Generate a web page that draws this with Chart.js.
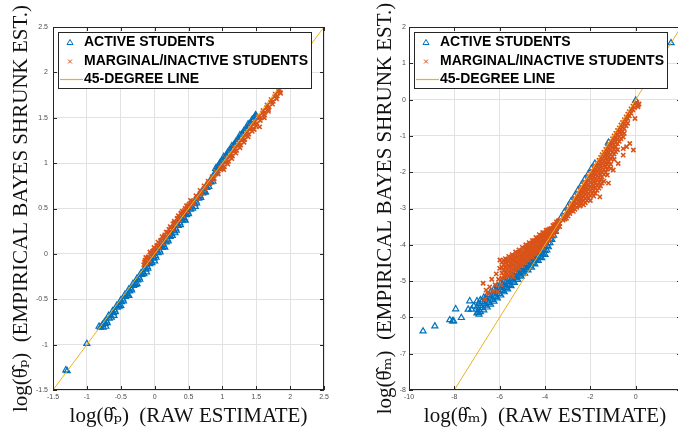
<!DOCTYPE html>
<html>
<head>
<meta charset="utf-8">
<script src="https://cdn.jsdelivr.net/npm/chart.js@4"></script>
<style>
  html, body { margin: 0; padding: 0; background: #fff; overflow: hidden; }
  #wrap { position: relative; width: 678px; height: 434px; overflow: hidden; }
  .panel { position: absolute; top: 0; height: 434px; }
  #left { left: 0; width: 340px; }
  #right { left: 340px; width: 357px; }
</style>
</head>
<body>
<div id="wrap">
  <div class="panel" id="left"><canvas id="chartP"></canvas></div>
  <div class="panel" id="right"><canvas id="chartM"></canvas></div>
</div>
<script>
// left panel: log(theta_p), [raw, shrunk]
const activeP = [
  [-1.31,-1.28],[-1.29,-1.29],[-1.0,-0.99],[-0.82,-0.80],[-0.80,-0.81],
  [-0.77,-0.78],[-0.74,-0.75],[-0.71,-0.74],[-0.68,-0.68],[-0.65,-0.68],[-0.62,-0.63],
  [-0.59,-0.62],[-0.56,-0.57],[-0.53,-0.56],[-0.50,-0.51],[-0.47,-0.50],[-0.44,-0.45],
  [-0.41,-0.44],[-0.38,-0.39],[-0.35,-0.38],[-0.32,-0.33],[-0.29,-0.32],[-0.26,-0.27],
  [-0.23,-0.26],[-0.20,-0.21],[-0.17,-0.20],[-0.14,-0.15],[-0.11,-0.14],[-0.08,-0.09],
  [-0.05,-0.08],[-0.02,-0.03],[0.01,-0.02],[0.04,0.03],[0.07,0.04],[0.10,0.09],
  [0.13,0.10],[0.16,0.15],[0.19,0.16],[0.22,0.21],[0.25,0.22],[0.28,0.27],[0.31,0.28],
  [0.34,0.33],[0.37,0.34],[0.40,0.39],[0.43,0.40],[0.46,0.45],[0.49,0.46],[0.52,0.51],
  [0.55,0.52],[0.58,0.57],[0.61,0.58],[0.64,0.63],[0.67,0.64],[0.70,0.69],[0.73,0.70],
  [0.76,0.75],[0.79,0.77],[0.82,0.81],[0.85,0.83],[0.88,0.88],[0.91,0.90],[0.94,0.95],
  [0.97,0.97],[1.00,1.02],[1.03,1.04],[1.06,1.08],[1.09,1.10],[1.12,1.14],[1.15,1.16],
  [1.18,1.20],[1.21,1.22],[1.24,1.26],[1.27,1.28],[1.30,1.32],[1.33,1.34],[1.36,1.38],
  [1.39,1.40],[1.42,1.44],[1.45,1.46],[1.48,1.51],[1.50,1.52],
  [-0.76,-0.81],[-0.70,-0.76],[-0.64,-0.70],[-0.58,-0.64],[-0.52,-0.58],[-0.46,-0.52],
  [-0.40,-0.46],[-0.34,-0.40],[-0.28,-0.34],[-0.22,-0.28],[-0.16,-0.22],[-0.10,-0.16],
  [-0.04,-0.10],[0.02,-0.04],[0.08,0.02],[0.14,0.08],[0.20,0.14],[0.26,0.20],[0.32,0.26],
  [0.38,0.32],[0.44,0.38],[0.50,0.44],[0.56,0.50],[0.62,0.56],[0.68,0.62],[0.74,0.68],
  [0.80,0.74],[0.86,0.80],
  [-0.73,-0.77],[-0.67,-0.71],[-0.61,-0.65],[-0.55,-0.59],[-0.49,-0.53],[-0.43,-0.47],
  [-0.37,-0.41],[-0.31,-0.35],[-0.25,-0.29],[-0.19,-0.23],[-0.13,-0.17],[-0.07,-0.11],
  [-0.01,-0.05],[0.05,0.01],[0.11,0.07],[0.17,0.13],[0.23,0.19],[0.29,0.25],[0.35,0.31],
  [0.41,0.37],[0.47,0.43],[0.53,0.49],[0.59,0.55],[0.65,0.61],[0.71,0.67],[0.77,0.73],[0.83,0.79],
  [-0.72,-0.80],[-0.60,-0.68],[-0.50,-0.57],[-0.38,-0.46],[-0.26,-0.33],[-0.12,-0.20],
  [0.00,-0.08],[0.15,0.07],[0.30,0.23],[0.45,0.37],[0.60,0.52],[0.75,0.68],
  [0.90,0.94],[0.96,1.00],[1.02,1.07],[1.08,1.12],[1.14,1.19],[1.20,1.24],[1.26,1.31],
  [1.32,1.36],[1.38,1.43],[1.44,1.48],[1.49,1.53],
  [0.93,0.96],[0.99,1.02],[1.05,1.08],[1.11,1.14],[1.17,1.20],[1.23,1.26],[1.29,1.32],
  [1.35,1.38],[1.41,1.44],[1.47,1.50]
];
const marginalP = [
  [-0.16,-0.12],[-0.14,-0.07],[-0.12,-0.10],[-0.10,-0.04],[-0.08,-0.07],[-0.06,-0.01],
  [-0.03,-0.02],[-0.01,0.04],[0.02,0.02],[0.04,0.09],[0.07,0.07],[0.09,0.14],[0.12,0.12],
  [0.14,0.19],[0.17,0.17],[0.19,0.24],[0.22,0.22],[0.24,0.29],[0.27,0.27],[0.29,0.34],
  [0.32,0.32],[0.34,0.39],[0.37,0.37],[0.39,0.44],[0.42,0.42],[0.44,0.48],[0.47,0.47],
  [0.49,0.53],[0.52,0.51],[0.55,0.58],[0.58,0.56],[0.61,0.64],[0.64,0.62],[0.67,0.70],
  [0.70,0.67],[0.73,0.75],[0.76,0.73],[0.79,0.80],[0.82,0.78],[0.85,0.85],[0.88,0.83],
  [0.91,0.90],[0.94,0.88],[0.97,0.95],[1.00,0.98],[1.03,0.96],[1.06,1.05],[1.09,1.02],
  [1.12,1.11],[1.15,1.08],[1.18,1.17],[1.21,1.14],[1.24,1.23],[1.27,1.20],[1.30,1.29],
  [1.33,1.26],[1.36,1.35],[1.39,1.32],[1.42,1.41],[1.45,1.38],[1.48,1.46],[1.51,1.44],
  [1.54,1.52],[1.57,1.50],[1.60,1.58],[1.63,1.56],[1.66,1.64],[1.69,1.62],[1.72,1.70],
  [1.75,1.68],[1.78,1.76],[1.81,1.74],[1.83,1.81],[1.85,1.78],[1.88,1.85],[1.90,1.84],
  [1.55,1.40],[1.62,1.50],[1.68,1.57],[1.47,1.37],
  [-0.13,-0.04],[-0.07,0.02],[-0.01,0.07],[0.05,0.13],[0.11,0.19],[0.17,0.24],[0.23,0.30],
  [0.29,0.36],[0.35,0.42],[0.41,0.47],[0.47,0.53],[0.53,0.59],
  [1.02,0.93],[1.08,0.99],[1.14,1.05],[1.20,1.11],[1.26,1.17],[1.32,1.23],[1.38,1.29],
  [1.44,1.35],[1.50,1.41],[1.56,1.47],[1.62,1.53],[1.68,1.59],[1.74,1.65],[1.80,1.71],[1.86,1.77],
  [-0.15,-0.09],[-0.09,-0.03],[-0.03,0.03],[0.03,0.09],[0.09,0.15],[0.15,0.21],[0.21,0.27],
  [0.27,0.33],[0.33,0.39],[0.39,0.45],[0.45,0.50],[0.51,0.55],
  [0.56,0.55],[0.62,0.61],[0.68,0.66],[0.74,0.72],[0.80,0.78],[0.86,0.83],[0.92,0.89],[0.98,0.93],
  [1.05,1.01],[1.11,1.07],[1.17,1.13],[1.23,1.19],[1.29,1.25],[1.35,1.31],[1.41,1.37],
  [1.47,1.43],[1.53,1.49],[1.59,1.55],[1.65,1.61],[1.71,1.67],[1.77,1.73],[1.83,1.79]
];
const diagP = [-1.5, 2.5];
const xTicksP = [-1.5, -1, -0.5, 0, 0.5, 1, 1.5, 2, 2.5];
const yTicksP = [-1.5, -1, -0.5, 0, 0.5, 1, 1.5, 2, 2.5];

// right panel: log(theta_m), [raw, shrunk]
const activeM = [
  [-9.38,-6.38],[-8.86,-6.24],[-8.2,-6.07],[-8.08,-6.1],[-8.03,-6.1],[-7.94,-5.77],
  [-7.69,-6.01],[-7.32,-5.55],[-7.39,-5.78],[-7.24,-5.78],[-7.14,-5.69],[-6.91,-5.92],[-6.95,-5.87],
  [-7.0,-5.88],[-7.0,-5.72],[-7.0,-5.55],[-6.85,-5.85],[-6.85,-5.68],[-6.85,-5.52],
  [-6.7,-5.80],[-6.7,-5.62],[-6.7,-5.45],[-6.55,-5.72],[-6.55,-5.55],[-6.55,-5.38],
  [-6.4,-5.64],[-6.4,-5.47],[-6.4,-5.30],[-6.25,-5.56],[-6.25,-5.39],[-6.25,-5.22],
  [-6.1,-5.47],[-6.1,-5.30],[-6.1,-5.14],[-5.95,-5.39],[-5.95,-5.23],[-5.95,-5.06],
  [-5.8,-5.30],[-5.8,-5.14],[-5.8,-4.98],[-5.65,-5.22],[-5.65,-5.06],[-5.65,-4.90],
  [-5.5,-5.13],[-5.5,-4.97],[-5.5,-4.83],[-5.35,-5.04],[-5.35,-4.89],[-5.35,-4.75],
  [-5.2,-4.96],[-5.2,-4.81],[-5.2,-4.67],[-5.05,-4.87],[-5.05,-4.73],[-5.05,-4.60],
  [-4.9,-4.79],[-4.9,-4.65],[-4.9,-4.52],[-4.75,-4.70],[-4.75,-4.57],[-4.75,-4.44],
  [-4.6,-4.62],[-4.6,-4.49],[-4.6,-4.37],[-4.45,-4.53],[-4.45,-4.41],[-4.45,-4.29],
  [-4.3,-4.44],[-4.3,-4.32],[-4.3,-4.21],[-4.15,-4.36],[-4.15,-4.24],[-4.15,-4.13],
  [-4.0,-4.27],[-4.0,-4.16],[-4.0,-4.05],[-3.85,-4.06],[-3.85,-3.95],[-3.7,-3.86],
  [-3.7,-3.76],[-3.55,-3.64],[-3.55,-3.56],
  [-6.92,-5.79],[-6.92,-5.62],[-6.78,-5.74],[-6.78,-5.57],[-6.62,-5.67],[-6.62,-5.50],
  [-6.48,-5.60],[-6.48,-5.42],[-6.32,-5.51],[-6.32,-5.34],[-6.18,-5.43],[-6.18,-5.26],
  [-6.02,-5.35],[-6.02,-5.18],[-5.88,-5.26],[-5.88,-5.10],[-5.72,-5.18],[-5.72,-5.02],
  [-5.58,-5.10],[-5.58,-4.94],[-5.42,-5.01],[-5.42,-4.86],[-5.28,-4.92],[-5.28,-4.78],
  [-5.12,-4.84],[-5.12,-4.70],[-4.98,-4.76],[-4.98,-4.62],[-4.82,-4.68],[-4.82,-4.55],
  [-4.68,-4.59],[-4.68,-4.47],[-4.52,-4.51],[-4.52,-4.39],[-4.38,-4.42],[-4.38,-4.31],
  [-4.22,-4.34],[-4.22,-4.23],[-4.08,-4.26],[-4.08,-4.15],[-3.92,-4.15],[-3.92,-4.02],
  [-3.78,-3.95],[-3.78,-3.84],[-3.62,-3.74],[-3.62,-3.64],
  [-3.45,-3.40],[-3.3,-3.26],[-3.15,-3.10],[-3.0,-2.96],[-2.85,-2.80],[-2.7,-2.66],
  [-2.55,-2.50],[-2.4,-2.36],[-2.25,-2.20],[-2.1,-2.06],[-1.95,-1.90],[-1.8,-1.76],
  [-1.2,-1.18],[0.0,-0.02],[1.56,1.56]
];
const marginalM = [
  [-6.73,-5.06],[-6.66,-5.5],[-6.6,-5.25],[-6.5,-5.35],[-6.44,-5.16],[-6.35,-4.95],
  [-6.3,-5.28],[-6.2,-5.1],[-6.15,-4.8],[-6.07,-5.29],[-6.05,-4.95],[-6.0,-4.65],
  [-5.95,-5.1],[-5.73,-4.44],[-5.41,-4.88],[-5.99,-4.42],
  [-5.9,-4.92],[-5.9,-4.78],[-5.9,-4.62],[-5.9,-4.48],
  [-5.75,-4.90],[-5.75,-4.76],[-5.75,-4.62],[-5.75,-4.48],[-5.75,-4.38],
  [-5.6,-4.85],[-5.6,-4.72],[-5.6,-4.58],[-5.6,-4.45],[-5.6,-4.32],
  [-5.45,-4.80],[-5.45,-4.66],[-5.45,-4.53],[-5.45,-4.40],[-5.45,-4.27],
  [-5.3,-4.72],[-5.3,-4.59],[-5.3,-4.46],[-5.3,-4.33],[-5.3,-4.20],
  [-5.15,-4.65],[-5.15,-4.52],[-5.15,-4.40],[-5.15,-4.27],[-5.15,-4.14],
  [-5.0,-4.57],[-5.0,-4.45],[-5.0,-4.33],[-5.0,-4.21],[-5.0,-4.07],
  [-4.85,-4.49],[-4.85,-4.37],[-4.85,-4.25],[-4.85,-4.13],[-4.85,-4.00],
  [-4.7,-4.42],[-4.7,-4.30],[-4.7,-4.18],[-4.7,-4.06],[-4.7,-3.94],
  [-4.55,-4.34],[-4.55,-4.22],[-4.55,-4.10],[-4.55,-3.98],[-4.55,-3.88],
  [-4.4,-4.26],[-4.4,-4.14],[-4.4,-4.02],[-4.4,-3.90],[-4.4,-3.80],
  [-4.25,-4.18],[-4.25,-4.06],[-4.25,-3.94],[-4.25,-3.83],[-4.25,-3.72],
  [-4.1,-4.08],[-4.1,-3.97],[-4.1,-3.86],[-4.1,-3.75],[-4.1,-3.66],
  [-3.95,-3.98],[-3.95,-3.88],[-3.95,-3.78],[-3.95,-3.68],[-3.95,-3.60],
  [-3.8,-3.86],[-3.8,-3.76],[-3.8,-3.66],[-3.8,-3.56],
  [-3.65,-3.74],[-3.65,-3.64],[-3.65,-3.54],[-3.65,-3.47],
  [-3.5,-3.62],[-3.5,-3.53],[-3.5,-3.44],[-3.5,-3.37],
  [-3.35,-3.50],[-3.35,-3.41],[-3.35,-3.32],
  [-5.82,-4.85],[-5.82,-4.70],[-5.82,-4.55],[-5.82,-4.43],
  [-5.68,-4.80],[-5.68,-4.67],[-5.68,-4.53],[-5.68,-4.40],
  [-5.52,-4.76],[-5.52,-4.62],[-5.52,-4.49],[-5.52,-4.36],
  [-5.38,-4.69],[-5.38,-4.56],[-5.38,-4.43],[-5.38,-4.30],
  [-5.22,-4.62],[-5.22,-4.49],[-5.22,-4.36],[-5.22,-4.23],
  [-5.08,-4.55],[-5.08,-4.42],[-5.08,-4.30],[-5.08,-4.17],
  [-4.92,-4.47],[-4.92,-4.35],[-4.92,-4.23],[-4.92,-4.10],
  [-4.78,-4.40],[-4.78,-4.28],[-4.78,-4.16],[-4.78,-4.04],
  [-4.62,-4.32],[-4.62,-4.20],[-4.62,-4.08],[-4.62,-3.96],
  [-4.48,-4.24],[-4.48,-4.12],[-4.48,-4.00],[-4.48,-3.89],
  [-4.32,-4.16],[-4.32,-4.04],[-4.32,-3.92],[-4.32,-3.81],
  [-4.18,-4.07],[-4.18,-3.96],[-4.18,-3.84],[-4.18,-3.74],
  [-4.02,-3.97],[-4.02,-3.87],[-4.02,-3.76],[-4.02,-3.67],
  [-3.88,-3.87],[-3.88,-3.77],[-3.88,-3.67],[-3.88,-3.59],
  [-3.72,-3.75],[-3.72,-3.65],[-3.72,-3.55],[-3.58,-3.63],[-3.58,-3.53],[-3.58,-3.44],
  [-3.42,-3.51],[-3.42,-3.42],[-3.42,-3.34],
  [-3.2,-3.23],[-3.2,-3.32],[-3.05,-3.08],[-3.05,-3.18],[-3.05,-3.27],
  [-2.9,-2.94],[-2.9,-3.04],[-2.9,-3.14],
  [-2.75,-2.79],[-2.75,-2.89],[-2.75,-2.99],[-2.75,-3.08],
  [-2.6,-2.64],[-2.6,-2.75],[-2.6,-2.86],[-2.6,-2.97],
  [-2.45,-2.49],[-2.45,-2.60],[-2.45,-2.71],[-2.45,-2.82],[-2.45,-2.93],
  [-2.3,-2.34],[-2.3,-2.45],[-2.3,-2.56],[-2.3,-2.67],[-2.3,-2.78],[-2.3,-2.90],
  [-2.15,-2.19],[-2.15,-2.30],[-2.15,-2.42],[-2.15,-2.54],[-2.15,-2.66],[-2.15,-2.78],
  [-2.0,-2.04],[-2.0,-2.16],[-2.0,-2.28],[-2.0,-2.40],[-2.0,-2.52],[-2.0,-2.64],[-2.0,-2.78],
  [-1.85,-1.89],[-1.85,-2.01],[-1.85,-2.13],[-1.85,-2.25],[-1.85,-2.37],[-1.85,-2.50],[-1.85,-2.66],
  [-1.7,-1.74],[-1.7,-1.86],[-1.7,-1.98],[-1.7,-2.10],[-1.7,-2.22],[-1.7,-2.35],[-1.7,-2.50],
  [-1.55,-1.59],[-1.55,-1.71],[-1.55,-1.83],[-1.55,-1.95],[-1.55,-2.07],[-1.55,-2.20],[-1.55,-2.38],
  [-1.4,-1.45],[-1.4,-1.57],[-1.4,-1.69],[-1.4,-1.81],[-1.4,-1.93],[-1.4,-2.06],[-1.4,-2.25],
  [-1.25,-1.30],[-1.25,-1.42],[-1.25,-1.54],[-1.25,-1.66],[-1.25,-1.78],[-1.25,-1.92],[-1.25,-2.08],
  [-1.1,-1.15],[-1.1,-1.27],[-1.1,-1.39],[-1.1,-1.51],[-1.1,-1.63],[-1.1,-1.78],[-1.1,-1.90],
  [-0.95,-1.00],[-0.95,-1.12],[-0.95,-1.24],[-0.95,-1.36],[-0.95,-1.50],[-0.95,-1.65],
  [-0.8,-0.85],[-0.8,-0.97],[-0.8,-1.09],[-0.8,-1.22],[-0.8,-1.38],
  [-0.65,-0.70],[-0.65,-0.82],[-0.65,-0.95],[-0.65,-1.08],
  [-0.5,-0.55],[-0.5,-0.67],[-0.5,-0.80],[-0.5,-0.93],
  [-0.35,-0.40],[-0.35,-0.52],[-0.35,-0.65],[-0.2,-0.26],[-0.2,-0.38],[-0.05,-0.11],[-0.05,-0.22],
  [-3.12,-3.20],[-3.12,-3.29],[-2.98,-3.01],[-2.98,-3.11],[-2.98,-3.21],
  [-2.82,-2.86],[-2.82,-2.96],[-2.82,-3.06],
  [-2.68,-2.72],[-2.68,-2.82],[-2.68,-2.92],[-2.68,-3.02],
  [-2.52,-2.57],[-2.52,-2.68],[-2.52,-2.79],[-2.52,-2.90],
  [-2.38,-2.42],[-2.38,-2.53],[-2.38,-2.64],[-2.38,-2.75],[-2.38,-2.86],
  [-2.22,-2.27],[-2.22,-2.38],[-2.22,-2.49],[-2.22,-2.61],[-2.22,-2.72],[-2.22,-2.84],
  [-2.08,-2.12],[-2.08,-2.23],[-2.08,-2.35],[-2.08,-2.47],[-2.08,-2.59],[-2.08,-2.71],
  [-1.92,-1.97],[-1.92,-2.09],[-1.92,-2.21],[-1.92,-2.33],[-1.92,-2.45],[-1.92,-2.58],
  [-1.78,-1.82],[-1.78,-1.94],[-1.78,-2.06],[-1.78,-2.18],[-1.78,-2.30],[-1.78,-2.43],[-1.78,-2.58],
  [-1.62,-1.67],[-1.62,-1.79],[-1.62,-1.91],[-1.62,-2.03],[-1.62,-2.15],[-1.62,-2.28],[-1.62,-2.44],
  [-1.48,-1.52],[-1.48,-1.64],[-1.48,-1.76],[-1.48,-1.88],[-1.48,-2.00],[-1.48,-2.13],[-1.48,-2.30],
  [-1.32,-1.37],[-1.32,-1.49],[-1.32,-1.61],[-1.32,-1.73],[-1.32,-1.85],[-1.32,-2.00],
  [-1.18,-1.22],[-1.18,-1.34],[-1.18,-1.46],[-1.18,-1.58],[-1.18,-1.70],[-1.18,-1.84],
  [-1.02,-1.08],[-1.02,-1.20],[-1.02,-1.32],[-1.02,-1.44],[-1.02,-1.57],
  [-0.88,-0.93],[-0.88,-1.05],[-0.88,-1.17],[-0.88,-1.30],[-0.88,-1.44],
  [-0.72,-0.78],[-0.72,-0.90],[-0.72,-1.02],[-0.72,-1.15],
  [-0.58,-0.63],[-0.58,-0.75],[-0.58,-0.88],[-0.42,-0.48],[-0.42,-0.60],[-0.42,-0.72],
  [-0.28,-0.33],[-0.28,-0.45],[-0.12,-0.18],[-0.12,-0.28],
  [-0.1,-1.39],[-0.4,-1.3],[-0.55,-1.53],[-0.77,-1.76],[-0.99,-1.94],[-0.03,-0.52],
  [0.11,-0.16],[0.15,-0.12],[0.05,-0.08],[-0.69,-0.89],[-0.55,-1.03],[-0.26,-1.21],
  [-0.55,-1.35],[-1.58,-2.68],[-1.2,-2.3],[0.1,-0.2]
];
const diagM = [-10, 2];
const xTicksM = [-10, -8, -6, -4, -2, 0, 2];
const yTicksM = [-8, -7, -6, -5, -4, -3, -2, -1, 0, 1, 2];

const BLUE = '#0072BD', ORANGE = '#D95319', YELLOW = '#EDB120', AXIS = '#262626';
const SERIF = '"Liberation Serif", "DejaVu Serif", serif';
const SANS = '"Liberation Sans", Arial, sans-serif';

const toXY = pts => pts.map(([x, y]) => ({x, y}));

// matlab style box with inward ticks
const frame = {
  id: 'frame',
  afterDraw(chart) {
    const {ctx, chartArea: a, scales} = chart;
    ctx.save();
    ctx.strokeStyle = AXIS;
    ctx.lineWidth = 1;
    ctx.strokeRect(a.left + 0.5, a.top + 0.5, a.right - a.left - 1, a.bottom - a.top - 1);
    ctx.beginPath();
    scales.x.ticks.forEach(t => {
      const px = Math.round(scales.x.getPixelForValue(t.value)) + 0.5;
      ctx.moveTo(px, a.bottom); ctx.lineTo(px, a.bottom - 4);
      ctx.moveTo(px, a.top); ctx.lineTo(px, a.top + 4);
    });
    scales.y.ticks.forEach(t => {
      const py = Math.round(scales.y.getPixelForValue(t.value)) + 0.5;
      ctx.moveTo(a.left, py); ctx.lineTo(a.left + 4, py);
      ctx.moveTo(a.right, py); ctx.lineTo(a.right - 4, py);
    });
    ctx.stroke();
    ctx.restore();
  }
};

// legend drawn as a boxed panel inside the axes, above the data
const boxLegend = {
  id: 'boxLegend',
  afterDraw(chart) {
    const {ctx, chartArea: a} = chart;
    const items = chart.data.datasets;
    ctx.save();
    ctx.font = 'bold 14px ' + SANS;
    const textW = Math.max(...items.map(d => ctx.measureText(d.label).width));
    const x0 = a.left + 5, y0 = a.top + 5, w = textW + 29, h = 56;
    ctx.fillStyle = '#fff';
    ctx.fillRect(x0, y0, w, h);
    ctx.strokeStyle = AXIS;
    ctx.lineWidth = 1;
    ctx.strokeRect(x0 + 0.5, y0 + 0.5, w, h);
    items.forEach((d, i) => {
      const cy = Math.round(y0 + 10 + i * 18.5) + 0.5, cx = x0 + 12;
      ctx.strokeStyle = d.borderColor;
      ctx.lineWidth = d.type === 'line' ? 1.2 : 1;
      ctx.beginPath();
      if (d.type === 'line') {
        ctx.moveTo(x0 + 2, cy); ctx.lineTo(x0 + 25, cy);
      } else if (d.pointStyle === 'triangle') {
        ctx.moveTo(cx, cy - 3); ctx.lineTo(cx + 3, cy + 2); ctx.lineTo(cx - 3, cy + 2); ctx.closePath();
      } else {
        ctx.moveTo(cx - 2, cy - 2); ctx.lineTo(cx + 2, cy + 2);
        ctx.moveTo(cx + 2, cy - 2); ctx.lineTo(cx - 2, cy + 2);
      }
      ctx.stroke();
      ctx.fillStyle = '#000';
      ctx.textBaseline = 'middle';
      ctx.fillText(d.label, x0 + 26, cy);
    });
    ctx.restore();
  }
};

function panel(id, cfg) {
  return new Chart(document.getElementById(id), {
    type: 'scatter',
    data: {
      datasets: [
        { label: 'ACTIVE STUDENTS', data: toXY(cfg.active), pointStyle: 'triangle', pointRadius: 3.5,
          borderColor: BLUE, backgroundColor: 'rgba(0,0,0,0)', borderWidth: 1.2, order: 2 },
        { label: 'MARGINAL/INACTIVE STUDENTS', data: toXY(cfg.marginal), pointStyle: 'crossRot', pointRadius: 3,
          borderColor: ORANGE, backgroundColor: ORANGE, borderWidth: 1.6, order: 1 },
        { type: 'line', label: '45-DEGREE LINE', data: cfg.diag.map(v => ({x: v, y: v})),
          borderColor: YELLOW, borderWidth: 1, pointRadius: 0, order: 0 }
      ]
    },
    options: {
      responsive: true,
      maintainAspectRatio: false,
      animation: false,
      layout: { padding: { left: 0, right: 16, top: 27, bottom: 0 } },
      plugins: { legend: { display: false }, tooltip: { enabled: false } },
      scales: {
        x: {
          type: 'linear', min: cfg.xTicks[0], max: cfg.xTicks[cfg.xTicks.length - 1],
          afterBuildTicks: s => { s.ticks = cfg.xTicks.map(v => ({value: v})); },
          afterFit: s => { s.height = 44; },
          grid: { color: '#e2e2e2', drawTicks: false },
          border: { display: false },
          ticks: { padding: 3, color: '#4d4d4d', font: { size: 7, family: SANS },
                   maxRotation: 0, autoSkip: false, callback: v => String(v) },
          title: { display: true, text: cfg.xTitle, color: '#111',
                   font: { family: SERIF, size: 21 }, padding: { top: 0, bottom: 5 } }
        },
        y: {
          type: 'linear', min: cfg.yTicks[0], max: cfg.yTicks[cfg.yTicks.length - 1],
          afterBuildTicks: s => { s.ticks = cfg.yTicks.map(v => ({value: v})); },
          afterFit: s => { s.width = cfg.yWidth; },
          grid: { color: '#e2e2e2', drawTicks: false },
          border: { display: false },
          ticks: { padding: cfg.yPad, color: '#4d4d4d', font: { size: 7, family: SANS },
                   autoSkip: false, callback: v => String(v) },
          title: { display: true, text: cfg.yTitle, color: '#111',
                   font: { family: SERIF, size: 21 }, padding: { top: cfg.yTitlePad, bottom: 0 } }
        }
      }
    },
    plugins: [frame, boxLegend]
  });
}

panel('chartP', {
  active: activeP, marginal: marginalP, diag: diagP, xTicks: xTicksP, yTicks: yTicksP,
  yWidth: 53, yPad: 5, yTitlePad: 9,
  xTitle: 'log(\u03B8\u0302\u209A)  (RAW ESTIMATE)',
  yTitle: 'log(\u03B8\u0302\u209A)  (EMPIRICAL BAYES SHRUNK EST.)'
});
panel('chartM', {
  active: activeM, marginal: marginalM, diag: diagM, xTicks: xTicksM, yTicks: yTicksM,
  yWidth: 69, yPad: 3, yTitlePad: 33,
  xTitle: 'log(\u03B8\u0302\u2098)  (RAW ESTIMATE)',
  yTitle: 'log(\u03B8\u0302\u2098)  (EMPIRICAL BAYES SHRUNK EST.)'
});
</script>
</body>
</html>
